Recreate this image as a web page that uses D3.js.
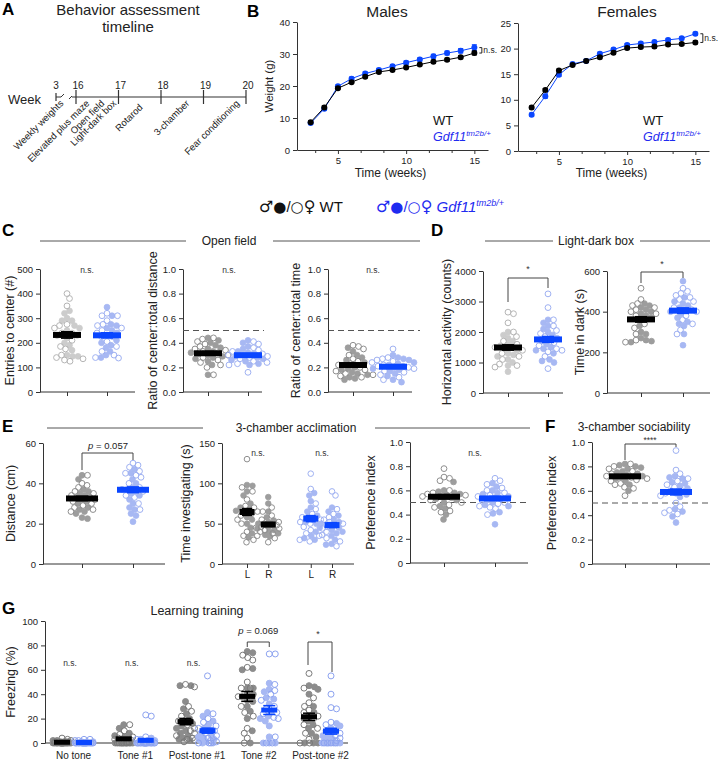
<!DOCTYPE html>
<html><head><meta charset="utf-8">
<script src="https://cdn.jsdelivr.net/npm/d3@7"></script>
<style>body{margin:0;background:#fff}svg{display:block}</style>
</head><body><svg id="c" width="719" height="760"></svg>
<script>
// ---------------- DATA ----------------
const timelineWeeks = [3, 16, 17, 18, 19, 20];
const timelineTasks = ["Weekly weights", "Elevated plus maze", "Open field", "Light-dark box", "Rotarod", "3-chamber", "Fear conditioning"];
const taskWeek = [15.0, 16.33, 16.68, 16.96, 17.58, 18.68, 19.86];

const weeks = [3,4,5,6,7,8,9,10,11,12,13,14,15];
const malesWT    = [8.7,13.3,19.3,21.2,22.9,24.4,25.0,25.8,26.7,27.6,28.2,29.0,30.3];
const malesWTsem = [0.4,0.5,0.4,0.4,0.4,0.4,0.4,0.4,0.4,0.5,0.5,0.5,0.6];
const malesKO    = [8.4,12.9,19.9,22.3,23.9,25.0,26.2,27.3,28.3,29.3,30.3,31.0,32.0];
const malesKOsem = [0.4,0.5,0.4,0.5,0.5,0.5,0.5,0.5,0.5,0.6,0.6,0.7,0.9];
const femalesWT    = [8.5,11.9,15.7,16.8,17.6,18.3,19.2,20.1,20.3,20.4,20.8,20.9,21.2];
const femalesWTsem = [0.3,0.3,0.3,0.3,0.3,0.3,0.3,0.3,0.3,0.3,0.3,0.3,0.3];
const femalesKO    = [7.1,10.7,14.9,17.0,17.6,19.0,19.8,20.7,21.0,21.3,21.7,22.0,22.9];
const femalesKOsem = [0.3,0.4,0.3,0.3,0.3,0.3,0.3,0.3,0.3,0.3,0.3,0.3,0.3];

// C: open field
const entriesWT_M = [330,320,300,290,290,270,260,250,240,230,220,200,190,170,150,145,145];
const entriesWT_F = [400,380,350,275,270,260,240,230,210,185,175,150,140,135,130,125];
const entriesKO_M = [345,310,275,270,260,250,240,230,225,210,200,190,180,165,150,140];
const entriesKO_F = [320,310,310,290,275,270,260,250,240,225,205,185,165,150,140,138];
const ratioDistWT_M = [0.44,0.42,0.40,0.38,0.36,0.35,0.33,0.32,0.31,0.30,0.29,0.28,0.27,0.25,0.22,0.14];
const ratioDistWT_F = [0.44,0.43,0.41,0.39,0.37,0.35,0.34,0.33,0.32,0.30,0.28,0.26,0.24,0.22,0.20,0.14];
const ratioDistKO_M = [0.42,0.40,0.37,0.35,0.33,0.32,0.31,0.30,0.29,0.28,0.27,0.26,0.25,0.23,0.22];
const ratioDistKO_F = [0.41,0.39,0.36,0.34,0.33,0.31,0.30,0.29,0.28,0.27,0.25,0.24,0.23,0.22,0.16];
const ratioTimeWT_M = [0.36,0.33,0.30,0.28,0.26,0.24,0.22,0.20,0.19,0.18,0.16,0.15,0.14,0.12,0.11,0.10];
const ratioTimeWT_F = [0.38,0.37,0.35,0.30,0.27,0.25,0.23,0.22,0.20,0.18,0.17,0.15,0.14,0.13,0.12];
const ratioTimeKO_M = [0.30,0.28,0.27,0.26,0.24,0.23,0.22,0.21,0.20,0.19,0.18,0.17,0.15,0.13,0.10,0.08];
const ratioTimeKO_F = [0.35,0.28,0.27,0.26,0.25,0.24,0.22,0.21,0.20,0.19,0.17,0.16,0.14,0.12,0.10];
// D: light-dark box
const activityWT_M = [2000,1900,1800,1700,1600,1550,1500,1450,1400,1300,1250,1200,1100,1000,900,700];
const activityWT_F = [2650,2600,2300,2000,1850,1700,1600,1500,1400,1300,1200,1100,950,900,850];
const activityKO_M = [2400,2300,2200,2100,2000,1900,1800,1700,1600,1500,1450,1400,1300,1100,1050,1000];
const activityKO_F = [3250,2800,2400,2200,2050,1950,1850,1750,1650,1550,1450,1400,1350,1200,800];
const darkWT_M = [440,430,420,410,400,390,380,370,330,300,290,270,260,255,250];
const darkWT_F = [515,460,440,430,420,410,400,390,380,360,340,320,290,260,250];
const darkKO_M = [550,470,450,440,430,420,410,400,390,370,350,340,330,290,235];
const darkKO_F = [515,500,490,480,470,460,450,420,410,400,380,360,340,310,290];
// E: 3-chamber acclimation
const distWT_M = [44,42,37,36,35,34,33,32,31,30,28,27,26,25,23,22.5];
const distWT_F = [44,40,39,38,36,35,34,33,32,31,30,29,28,27,26];
const distKO_M = [47,45,42,40,38,37,36,35,34,32,30,28,27,25,24,21];
const distKO_F = [50,49,48,46,45,44,43,40,38,37,36,34,33,30,27];
const invWT_L_M = [98,97,90,85,75,70,68,66,65,62,58,55,50,45,38,33];
const invWT_L_F = [130,95,90,80,72,70,65,60,55,50,45,40,35,30,27];
const invWT_R_M = [83,75,65,58,54,52,50,48,46,44,42,40,38,36,34];
const invWT_R_F = [70,65,60,55,52,50,48,46,44,42,40,38,35,32,27];
const invKO_L_M = [88,85,78,70,65,60,58,55,52,50,45,40,35,32,30];
const invKO_L_F = [112,93,75,68,62,58,55,52,50,46,42,38,35,30,28];
const invKO_R_M = [70,65,60,55,52,50,48,45,42,40,38,35,30,25,24];
const invKO_R_F = [90,85,68,62,58,55,52,50,46,44,40,36,32,28,22];
const accPrefWT_M = [0.67,0.60,0.59,0.58,0.57,0.56,0.55,0.54,0.53,0.52,0.50,0.47,0.45,0.40,0.36];
const accPrefWT_F = [0.78,0.71,0.70,0.68,0.60,0.58,0.57,0.56,0.55,0.52,0.50,0.48,0.46,0.43,0.42];
const accPrefKO_M = [0.66,0.63,0.60,0.58,0.57,0.55,0.54,0.53,0.52,0.50,0.48,0.47,0.42,0.41,0.32];
const accPrefKO_F = [0.70,0.68,0.65,0.62,0.60,0.58,0.56,0.55,0.52,0.50,0.49,0.47,0.46,0.45,0.40];
// F: sociability
const socPrefWT_M = [0.82,0.81,0.80,0.79,0.78,0.76,0.75,0.74,0.73,0.72,0.71,0.70,0.68,0.65,0.60];
const socPrefWT_F = [0.82,0.80,0.78,0.76,0.74,0.72,0.71,0.70,0.69,0.68,0.66,0.65,0.63,0.62,0.56];
const socPrefKO_M = [0.72,0.71,0.70,0.67,0.66,0.64,0.62,0.60,0.58,0.57,0.55,0.45,0.43,0.39,0.34];
const socPrefKO_F = [0.93,0.77,0.74,0.70,0.68,0.65,0.63,0.60,0.58,0.56,0.50,0.47,0.44,0.42,0.41];
// G: learning training (one list per tone period)
const toneLabels = ["No tone", "Tone #1", "Post-tone #1", "Tone #2", "Post-tone #2"];
const freezeWT_M = [
  [0,0,0,0,0,0,0,1,1,1,2,2,0,0,0],
  [0,0,0,0,0,1,2,3,4,5,6,8,12,15,0],
  [47,47,34,28,24,20,18,16,14,12,10,8,6,4,3,2],
  [75,74,61,60,45,40,45,40,38,35,34,30,26,20,10,0],
  [47,46,44,40,30,25,22,20,18,15,12,8,5,0,0,0]];
const freezeWT_F = [
  [0,0,0,0,0,0,1,1,2,3,4,0,0,0,0],
  [0,0,0,0,0,0,1,2,3,4,5,7,10,15,0],
  [48,46,30,26,22,18,15,12,10,8,6,4,3,2,1],
  [72,70,68,62,45,50,45,38,30,25,22,12,8,4,0],
  [57,45,37,33,30,27,25,22,20,15,12,8,3,0,0]];
const freezeKO_M = [
  [0,0,0,0,0,0,1,1,0,0,0,0,0,0,0],
  [0,0,0,0,0,0,1,2,3,4,0,0,0,0,0],
  [25,22,18,15,12,10,8,6,5,4,3,2,1,0,0],
  [49,44,42,37,36,32,26,22,20,14,18,5,0,0,0],
  [16,14,12,10,8,6,5,3,2,0,0,0,0,0,0]];
const freezeKO_F = [
  [0,0,0,0,1,2,3,3,2,0,0,0,0,0,0],
  [0,0,0,0,0,0,1,2,3,5,22,23,0,0,0],
  [55,24,20,17,14,12,10,8,6,4,2,1,0,0,0],
  [73,73,48,43,40,35,30,28,24,21,25,20,5,0,0],
  [55,40,29,28,17,15,10,8,6,4,2,0,0,0,0]];

// ---------------- STYLE ----------------
const FONT = "'Liberation Sans', Arial, Helvetica, sans-serif";
const SYM = "'DejaVu Sans', 'Noto Sans', sans-serif";
const BLUE = "#0a46ff";
const BLUE_TXT = "#1f2bf0";
const AX = "#333";
const svg = d3.select("#c").attr("font-family", FONT);

function txt(x, y, s, o = {}) {
  const t = svg.append("text").attr("x", x).attr("y", y).text(s)
    .attr("font-size", o.size || 12).attr("fill", o.fill || "#111")
    .attr("text-anchor", o.anchor || "start");
  if (o.weight) t.attr("font-weight", o.weight);
  if (o.style) t.attr("font-style", o.style);
  if (o.rotate) t.attr("transform", `rotate(${o.rotate},${x},${y})`);
  return t;
}
function styleAxis(g, fs = 9.5) {
  g.selectAll("path,line").attr("stroke", AX).attr("stroke-width", 1);
  g.selectAll("text").attr("font-size", fs).attr("fill", "#222").attr("font-family", FONT);
}
function panelLetter(x, y, s) { txt(x, y, s, {size: 17, weight: "bold", fill: "#000"}); }

// ---------------- A: timeline ----------------
panelLetter(2, 15, "A");
txt(128, 15, "Behavior assessment", {size: 15, anchor: "middle", fill: "#222"});
txt(128, 32, "timeline", {size: 15, anchor: "middle", fill: "#222"});
txt(8, 104, "Week", {size: 13, fill: "#222"});
const tl = d3.scaleLinear().domain([3, 15.5, 16, 20]).range([56, 70, 76, 246]);
const tly = 97;
svg.append("line").attr("x1", tl(3)).attr("x2", tl(3) + 5).attr("y1", tly).attr("y2", tly).attr("stroke", AX);
svg.append("path").attr("d", `M${tl(3)+5},${tly} l3,-3`).attr("stroke", AX).attr("fill", "none");
svg.append("path").attr("d", `M${tl(16)-7},${tly+2} l3,-3`).attr("stroke", AX).attr("fill", "none");
svg.append("line").attr("x1", tl(16) - 4).attr("x2", tl(20)).attr("y1", tly).attr("y2", tly).attr("stroke", AX).attr("stroke-width", 1.2);
timelineWeeks.forEach((w, i) => {
  const x = tl(w);
  svg.append("line").attr("x1", x).attr("x2", x).attr("y1", i === 0 ? tly - 4 : tly - 7).attr("y2", i === 0 ? tly + 4 : tly + 7).attr("stroke", AX).attr("stroke-width", 1.2);
  txt(x + (i === 0 ? 0 : 2), 89, String(w), {size: 10, anchor: "middle", fill: "#222"});
});
timelineTasks.forEach((s, i) => {
  const x = i === 0 ? 64 : tl(taskWeek[i]);
  const y = i === 4 ? 108 : 104;
  txt(x, y, s, {size: 9.5, anchor: "end", rotate: -45, fill: "#222"});
});

// ---------------- B: weights ----------------
panelLetter(247, 17, "B");
function weightPanel(cfg) {
  const x = d3.scaleLinear().domain([2, 16]).range(cfg.xr);
  const y = d3.scaleLinear().domain([0, cfg.ymax]).range([cfg.yBot, cfg.yTop]);
  const gy = svg.append("g").attr("transform", `translate(${cfg.xr[0]},0)`)
    .call(d3.axisLeft(y).tickValues(cfg.yticks).tickSize(4).tickSizeOuter(0).tickFormat(d3.format("d")));
  styleAxis(gy, 9.5);
  const gx = svg.append("g").attr("transform", `translate(0,${cfg.yBot})`)
    .call(d3.axisBottom(x).tickValues([5, 10, 15]).tickSize(4).tickSizeOuter(0));
  styleAxis(gx, 9.5);
  const gm = svg.append("g").attr("transform", `translate(0,${cfg.yBot})`)
    .call(d3.axisBottom(x).tickValues([10/3, 20/3, 25/3, 35/3, 40/3]).tickSize(3).tickFormat(""));
  gm.select(".domain").remove();
  styleAxis(gm);
  txt(cfg.titleX, 17, cfg.title, {size: 15.5, anchor: "middle", fill: "#222"});
  txt((cfg.xr[0] + cfg.xr[1]) / 2 - 2, 177, "Time (weeks)", {size: 12, anchor: "middle", fill: "#222"});
  if (cfg.ylabel) txt(cfg.xr[0] - 24, (cfg.yTop + cfg.yBot) / 2, cfg.ylabel, {size: 11.5, anchor: "middle", rotate: -90, fill: "#222"});
  const series = [[cfg.ko, cfg.koSem, BLUE], [cfg.wt, cfg.wtSem, "#000"]];
  series.forEach(([vals, sems, col]) => {
    const line = d3.line().x((d, i) => x(weeks[i])).y(d => y(d));
    svg.append("path").datum(vals).attr("d", line).attr("fill", "none").attr("stroke", col).attr("stroke-width", 1);
    vals.forEach((v, i) => {
      const cx = x(weeks[i]);
      svg.append("line").attr("x1", cx).attr("x2", cx).attr("y1", y(v - sems[i])).attr("y2", y(v + sems[i])).attr("stroke", col);
      [v - sems[i], v + sems[i]].forEach(e => svg.append("line").attr("x1", cx - 2.5).attr("x2", cx + 2.5).attr("y1", y(e)).attr("y2", y(e)).attr("stroke", col));
      svg.append("circle").attr("cx", cx).attr("cy", y(v)).attr("r", 3).attr("fill", col);
    });
  });
  txt(cfg.legX, 125, "WT", {size: 13, fill: "#111"});
  const t = txt(cfg.legX, 141, "Gdf11", {size: 12.5, fill: BLUE_TXT, style: "italic"});
  t.append("tspan").attr("dy", -5).attr("font-size", 8).text("tm2b/+");
  const last = weeks.length - 1;
  const bx = x(15) + 5;
  const ya = y(cfg.ko[last]), yb = y(cfg.wt[last]);
  svg.append("path").attr("d", `M${bx},${ya} h2.5 V${yb} h-2.5`).attr("fill", "none").attr("stroke", "#222");
  txt(bx + 4, (ya + yb) / 2 + 3, "n.s.", {size: 8.5, fill: "#222"});
}
weightPanel({xr: [297, 488], yTop: 22, yBot: 150, ymax: 40, yticks: [0,10,20,30,40], wt: malesWT, wtSem: malesWTsem, ko: malesKO, koSem: malesKOsem, title: "Males", titleX: 387, ylabel: "Weight (g)", legX: 433});
weightPanel({xr: [518, 709], yTop: 23, yBot: 151, ymax: 25, yticks: [0,5,10,15,20,25], wt: femalesWT, wtSem: femalesWTsem, ko: femalesKO, koSem: femalesKOsem, title: "Females", titleX: 627, legX: 643});

// ---------------- Legend ----------------
function legendItem(x, col, label, italic) {
  const t = svg.append("text").attr("x", x).attr("y", 212).attr("fill", col).attr("font-family", SYM);
  t.append("tspan").text("♂").attr("font-size", 16);
  t.append("tspan").text("●").attr("font-size", 15);
  t.append("tspan").text("/").attr("font-size", 15).attr("font-family", FONT);
  t.append("tspan").text("○").attr("font-size", 15);
  t.append("tspan").text("♀").attr("font-size", 16);
  const l = t.append("tspan").text(" " + label).attr("font-size", 15).attr("font-family", FONT);
  if (italic) {
    l.attr("font-style", "italic");
    t.append("tspan").text("tm2b/+").attr("font-style", "italic").attr("font-size", 9).attr("dy", -6).attr("font-family", FONT);
  }
}
legendItem(259, "#111", "WT", false);
legendItem(376, BLUE_TXT, "Gdf11", true);

// ---------------- dot panel helper ----------------
function swarm(pts, r, maxW) {
  const placed = [];
  const order = pts.map((p, i) => i).sort((a, b) => pts[a].py - pts[b].py);
  for (const i of order) {
    const p = pts[i];
    let best = 0, bestD = -1;
    const nSteps = Math.round(maxW / 0.5) * 2;
    for (let k = 0; k <= nSteps; k++) {
      const off = (k % 2 ? 1 : -1) * Math.ceil(k / 2) * 0.5;
      let minD = Infinity;
      for (const q of placed) {
        const dy = q.py - p.py;
        if (Math.abs(dy) < 2 * r) { const d = Math.hypot(q.dx - off, dy); if (d < minD) minD = d; }
      }
      if (minD >= 2 * r * 0.92) { best = off; bestD = Infinity; break; }
      if (minD > bestD) { bestD = minD; best = off; }
    }
    p.dx = best; placed.push(p);
  }
}

function dotPanel(cfg) {
  const y = d3.scaleLinear().domain([0, cfg.max]).range([cfg.yBot, cfg.yTop]);
  const xs = d3.scalePoint().domain(cfg.slots).range(cfg.xr);
  const gy = svg.append("g").attr("transform", `translate(${cfg.x0},0)`)
    .call(d3.axisLeft(y).tickValues(cfg.ticks).tickSize(4).tickSizeOuter(0).tickFormat(cfg.fmt));
  styleAxis(gy, 9.5);
  svg.append("line").attr("x1", cfg.x0).attr("x2", cfg.x1).attr("y1", cfg.yBot).attr("y2", cfg.yBot).attr("stroke", AX);
  const gx = svg.append("g").attr("transform", `translate(0,${cfg.yBot})`)
    .call(d3.axisBottom(xs).tickValues(cfg.groups.map(g => g.slot)).tickSize(4).tickFormat(cfg.xfmt || (() => "")));
  gx.select(".domain").remove();
  styleAxis(gx, 10);
  if (cfg.ylabel) txt(cfg.ylabX, (cfg.yTop + cfg.yBot) / 2, cfg.ylabel, {size: cfg.ylabSize || 12.5, anchor: "middle", rotate: -90, fill: "#222"});
  if (cfg.dashed) svg.append("line").attr("x1", cfg.x0).attr("x2", cfg.dashEnd || cfg.x1).attr("y1", y(0.5)).attr("y2", y(0.5))
    .attr("stroke", "#555").attr("stroke-dasharray", "6,4").attr("stroke-width", 1);
  const r = cfg.r || 2.9;
  cfg.groups.forEach(g => {
    const cx = xs(g.slot) + (g.shift || 0);
    const pts = g.male.map(v => ({v, py: y(v), m: true})).concat(g.female.map(v => ({v, py: y(v), m: false})));
    swarm(pts, r, cfg.maxW || 22);
    const gg = svg.append("g");
    pts.forEach(p => {
      const c = gg.append("circle").attr("cx", cx + p.dx).attr("cy", p.py).attr("r", r);
      if (p.m) c.attr("fill", g.fill).attr("stroke", g.fill).attr("stroke-width", 0.8);
      else c.attr("fill", "none").attr("stroke", g.stroke).attr("stroke-width", 1);
    });
    const all = g.male.concat(g.female);
    const m = d3.mean(all), sem = d3.deviation(all) / Math.sqrt(all.length);
    const bw = cfg.barW || 28, cw = cfg.capW || 12, bh = cfg.barH || 6;
    gg.append("line").attr("x1", cx).attr("x2", cx).attr("y1", y(m - sem)).attr("y2", y(m + sem)).attr("stroke", g.bar).attr("stroke-width", 1.5);
    [m - sem, m + sem].forEach(e => gg.append("line").attr("x1", cx - cw / 2).attr("x2", cx + cw / 2).attr("y1", y(e)).attr("y2", y(e)).attr("stroke", g.bar).attr("stroke-width", 1.5));
    gg.append("rect").attr("x", cx - bw / 2).attr("y", y(m) - bh / 2).attr("width", bw).attr("height", bh).attr("fill", g.bar);
  });
  return {y, xs};
}
function bracket(xa, xb, yTop, yA, yB) {
  svg.append("path").attr("d", `M${xa},${yA} V${yTop} H${xb} V${yB}`).attr("fill", "none").attr("stroke", "#444").attr("stroke-width", 1);
}
function sectionTitle(label, cx, y, l1, l2, r1, r2) {
  txt(cx, y + 4, label, {size: 12, anchor: "middle", fill: "#222"});
  svg.append("line").attr("x1", l1).attr("x2", l2).attr("y1", y).attr("y2", y).attr("stroke", "#555");
  if (r1 != null) svg.append("line").attr("x1", r1).attr("x2", r2).attr("y1", y).attr("y2", y).attr("stroke", "#555");
}
const lightGrey = "#cccccc", lightGreyStroke = "#b5b5b5";
const midGrey = "#9d9d9d", midGreyStroke = "#8f8f8f";
const lBlue = "#a7b8f3", lBlueStroke = "#9fb1f2";
const f1 = d3.format(".1f");
const fZero = d => d === 0 ? "0" : d3.format(".1f")(d);
const two = ["WT", "KO"];

// ---------------- C ----------------
panelLetter(2, 236, "C");
panelLetter(431, 236, "D");
sectionTitle("Open field", 229, 241, 40, 186, 273, 420);
dotPanel({x0: 40, x1: 135, xr: [67, 107], slots: two, yTop: 269, yBot: 392, max: 500, ticks: [0,100,200,300,400,500], fmt: d3.format("d"),
  ylabel: "Entries to center (#)", ylabX: 14,
  groups: [{slot: "WT", male: entriesWT_M, female: entriesWT_F, fill: lightGrey, stroke: lightGreyStroke, bar: "#000"},
           {slot: "KO", male: entriesKO_M, female: entriesKO_F, fill: lBlue, stroke: lBlueStroke, bar: BLUE}]});
txt(87, 273, "n.s.", {size: 8.5, anchor: "middle", fill: "#333"});
dotPanel({x0: 183, x1: 262, xr: [208, 248], slots: two, yTop: 269, yBot: 392, max: 1, ticks: [0,0.2,0.4,0.6,0.8,1], fmt: f1,
  ylabel: "Ratio of center:total distance", ylabX: 157, dashed: true, dashEnd: 264,
  groups: [{slot: "WT", male: ratioDistWT_M, female: ratioDistWT_F, fill: midGrey, stroke: midGreyStroke, bar: "#000"},
           {slot: "KO", male: ratioDistKO_M, female: ratioDistKO_F, fill: lBlue, stroke: lBlueStroke, bar: BLUE}]});
txt(229, 273, "n.s.", {size: 8.5, anchor: "middle", fill: "#333"});
dotPanel({x0: 328, x1: 412, xr: [353, 393], slots: two, yTop: 269, yBot: 392, max: 1, ticks: [0,0.2,0.4,0.6,0.8,1], fmt: f1,
  ylabel: "Ratio of center:total time", ylabX: 300, dashed: true, dashEnd: 420,
  groups: [{slot: "WT", male: ratioTimeWT_M, female: ratioTimeWT_F, fill: midGrey, stroke: midGreyStroke, bar: "#000"},
           {slot: "KO", male: ratioTimeKO_M, female: ratioTimeKO_F, fill: lBlue, stroke: lBlueStroke, bar: BLUE}]});
txt(373, 273, "n.s.", {size: 8.5, anchor: "middle", fill: "#333"});

// ---------------- D ----------------
sectionTitle("Light-dark box", 596, 241, 485, 553, 640, 710);
dotPanel({x0: 483, x1: 563, xr: [508, 548], slots: two, yTop: 271, yBot: 393, max: 4000, ticks: [0,1000,2000,3000,4000], fmt: d3.format("d"),
  ylabel: "Horizontal activity (counts)", ylabX: 451,
  groups: [{slot: "WT", male: activityWT_M, female: activityWT_F, fill: lightGrey, stroke: lightGreyStroke, bar: "#000"},
           {slot: "KO", male: activityKO_M, female: activityKO_F, fill: lBlue, stroke: lBlueStroke, bar: BLUE}]});
bracket(508, 548, 278, 302, 288);
txt(528, 272, "*", {size: 9, anchor: "middle", fill: "#333"});
dotPanel({x0: 607, x1: 710, xr: [641, 683], slots: two, yTop: 271, yBot: 393, max: 600, ticks: [0,200,400,600], fmt: d3.format("d"),
  ylabel: "Time in dark (s)", ylabX: 584,
  groups: [{slot: "WT", male: darkWT_M, female: darkWT_F, fill: midGrey, stroke: midGreyStroke, bar: "#000"},
           {slot: "KO", male: darkKO_M, female: darkKO_F, fill: lBlue, stroke: lBlueStroke, bar: BLUE}]});
bracket(641, 683, 272, 283, 278);
txt(662, 267, "*", {size: 9, anchor: "middle", fill: "#333"});

// ---------------- E ----------------
panelLetter(2, 432, "E");
sectionTitle("3-chamber acclimation", 296, 428, 47, 203, 375, 530);
dotPanel({x0: 43, x1: 165, xr: [82, 133], slots: two, yTop: 443, yBot: 564, max: 60, ticks: [0,20,40,60], fmt: d3.format("d"),
  ylabel: "Distance (cm)", ylabX: 15, barW: 32,
  groups: [{slot: "WT", male: distWT_M, female: distWT_F, fill: midGrey, stroke: midGreyStroke, bar: "#000"},
           {slot: "KO", male: distKO_M, female: distKO_F, fill: lBlue, stroke: lBlueStroke, bar: BLUE}]});
bracket(82, 133, 453, 470, 460);
{
  const t = txt(108, 449, "p", {size: 9.5, anchor: "middle", style: "italic", fill: "#222"});
  t.append("tspan").attr("font-style", "normal").text(" = 0.057");
}
const eSlots = ["WT-L", "WT-R", "gap", "KO-L", "KO-R"];
dotPanel({x0: 222, x1: 354, xr: [247, 332], slots: eSlots, yTop: 443, yBot: 564, max: 150, ticks: [0,50,100,150], fmt: d3.format("d"),
  ylabel: "Time investigating (s)", ylabX: 190, barW: 15, capW: 10, maxW: 11, r: 2.8,
  xfmt: d => d.slice(-1),
  groups: [{slot: "WT-L", male: invWT_L_M, female: invWT_L_F, fill: midGrey, stroke: midGreyStroke, bar: "#000"},
           {slot: "WT-R", male: invWT_R_M, female: invWT_R_F, fill: midGrey, stroke: midGreyStroke, bar: "#000"},
           {slot: "KO-L", male: invKO_L_M, female: invKO_L_F, fill: lBlue, stroke: lBlueStroke, bar: BLUE},
           {slot: "KO-R", male: invKO_R_M, female: invKO_R_F, fill: lBlue, stroke: lBlueStroke, bar: BLUE}]});
txt(258, 456, "n.s.", {size: 8.5, anchor: "middle", fill: "#333"});
txt(322, 456, "n.s.", {size: 8.5, anchor: "middle", fill: "#333"});
dotPanel({x0: 410, x1: 528, xr: [444, 495], slots: two, yTop: 442, yBot: 563, max: 1, ticks: [0,0.2,0.4,0.6,0.8,1], fmt: fZero,
  ylabel: "Preference index", ylabX: 375, dashed: true, barW: 32,
  groups: [{slot: "WT", male: accPrefWT_M, female: accPrefWT_F, fill: midGrey, stroke: midGreyStroke, bar: "#000"},
           {slot: "KO", male: accPrefKO_M, female: accPrefKO_F, fill: lBlue, stroke: lBlueStroke, bar: BLUE}]});
txt(475, 456, "n.s.", {size: 8.5, anchor: "middle", fill: "#333"});

// ---------------- F ----------------
panelLetter(545, 432, "F");
txt(634, 431, "3-chamber sociability", {size: 12, anchor: "middle", fill: "#222"});
dotPanel({x0: 592, x1: 710, xr: [625, 676], slots: two, yTop: 442, yBot: 564, max: 1, ticks: [0,0.2,0.4,0.6,0.8,1], fmt: fZero,
  ylabel: "Preference index", ylabX: 556, dashed: true, barW: 32,
  groups: [{slot: "WT", male: socPrefWT_M, female: socPrefWT_F, fill: midGrey, stroke: midGreyStroke, bar: "#000"},
           {slot: "KO", male: socPrefKO_M, female: socPrefKO_F, fill: lBlue, stroke: lBlueStroke, bar: BLUE}]});
bracket(625, 676, 444, 460, 447);
txt(650, 443, "****", {size: 8.5, anchor: "middle", fill: "#333"});

// ---------------- G ----------------
panelLetter(2, 614, "G");
txt(197, 615, "Learning training", {size: 12.5, anchor: "middle", fill: "#222"});
{
  const y = d3.scaleLinear().domain([0, 100]).range([743, 621]);
  const xs = d3.scalePoint().domain(toneLabels).range([73, 320]);
  const gy = svg.append("g").attr("transform", "translate(45,0)")
    .call(d3.axisLeft(y).tickValues([0,20,40,60,80,100]).tickSize(4).tickSizeOuter(0));
  styleAxis(gy, 9.5);
  svg.append("line").attr("x1", 45).attr("x2", 348).attr("y1", 743).attr("y2", 743).attr("stroke", AX);
  const gx = svg.append("g").attr("transform", "translate(0,743)").call(d3.axisBottom(xs).tickSize(0).tickPadding(9));
  gx.select(".domain").remove();
  styleAxis(gx, 10);
  txt(15, 682, "Freezing (%)", {size: 12.5, anchor: "middle", rotate: -90, fill: "#222"});
  const r = 3;
  toneLabels.forEach((lab, ti) => {
    const groups = [
      {dx: -11, male: freezeWT_M[ti], female: freezeWT_F[ti], fill: "#8c8c8c", stroke: "#7a7a7a", bar: "#000"},
      {dx: 11, male: freezeKO_M[ti], female: freezeKO_F[ti], fill: lBlue, stroke: "#8da3f0", bar: BLUE}];
    groups.forEach(g => {
      const cx = xs(lab) + g.dx;
      const pts = g.male.map(v => ({v, py: y(v), m: true})).concat(g.female.map(v => ({v, py: y(v), m: false})));
      swarm(pts, r, 9);
      pts.forEach(p => {
        const c = svg.append("circle").attr("cx", cx + p.dx).attr("cy", p.py).attr("r", r);
        if (p.m) c.attr("fill", g.fill).attr("stroke", g.fill);
        else c.attr("fill", "none").attr("stroke", g.stroke).attr("stroke-width", 1);
      });
      const all = g.male.concat(g.female);
      const m = d3.mean(all), sem = d3.deviation(all) / Math.sqrt(all.length);
      svg.append("line").attr("x1", cx).attr("x2", cx).attr("y1", y(Math.max(0, m - sem))).attr("y2", y(m + sem)).attr("stroke", g.bar).attr("stroke-width", 1.5);
      [Math.max(0, m - sem), m + sem].forEach(e => svg.append("line").attr("x1", cx - 6).attr("x2", cx + 6).attr("y1", y(e)).attr("y2", y(e)).attr("stroke", g.bar).attr("stroke-width", 1.5));
      svg.append("rect").attr("x", cx - 8).attr("y", y(m) - 2.5).attr("width", 16).attr("height", 5).attr("fill", g.bar);
    });
    if (ti < 3) txt(xs(lab) - 3, 666, "n.s.", {size: 8.5, anchor: "middle", fill: "#333"});
  });
  const t2 = xs("Tone #2"), p2 = xs("Post-tone #2");
  bracket(t2 - 11, t2 + 11, 642, 647, 647);
  const t = txt(t2, 634, "p", {size: 9.5, anchor: "middle", style: "italic", fill: "#222"});
  t.append("tspan").attr("font-style", "normal").text(" = 0.069");
  bracket(p2 - 12, p2 + 12, 642, 665, 672);
  txt(p2 - 2, 637, "*", {size: 9, anchor: "middle", fill: "#333"});
}
</script></body></html>
